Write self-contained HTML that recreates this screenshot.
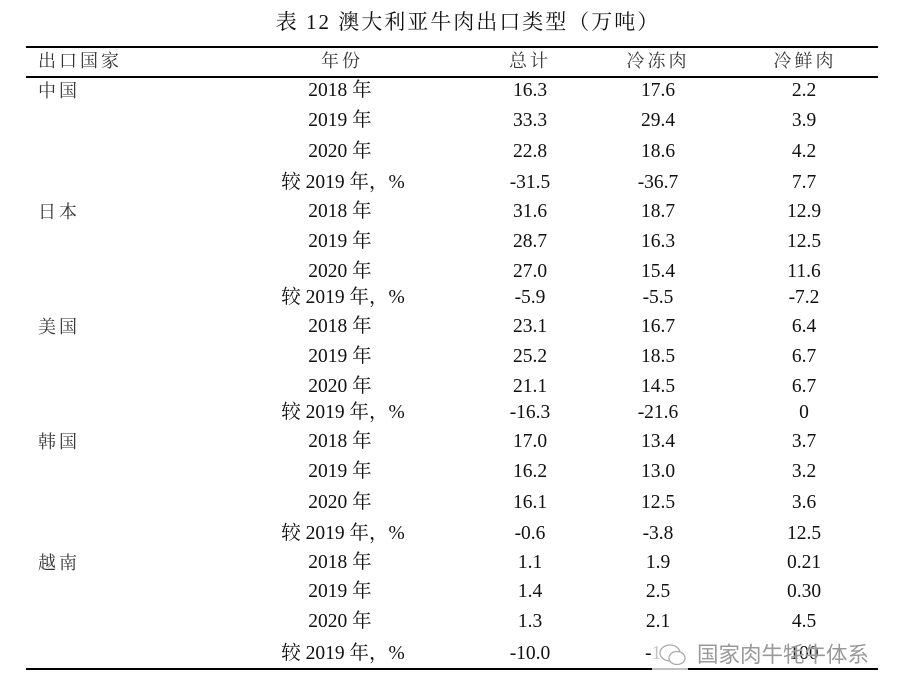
<!DOCTYPE html>
<html><head><meta charset="utf-8"><style>
body{margin:0;width:899px;height:696px;background:#fff;position:relative;overflow:hidden;font-family:"Liberation Serif","Noto Serif CJK SC",serif;color:#111;font-size:19.5px}
.t{position:absolute;white-space:nowrap;line-height:20px}
.c{transform:translateX(-50%)}
.line{position:absolute;left:26px;width:852px;height:1.5px;background:#000}
.cj{color:#333;letter-spacing:3px;font-size:18px}
</style></head><body>
<div class="t c" style="left:468px;top:12px;font-size:21px;letter-spacing:2px">表 12 澳大利亚牛肉出口类型（万吨）</div>
<div class="line" style="top:46px"></div>
<div class="line" style="top:76px"></div>
<div class="line" style="top:668px"></div>
<div class="t cj" style="left:38px;top:51px">出口国家</div>
<div class="t c cj" style="left:342px;top:51px">年份</div>
<div class="t c cj" style="left:530px;top:51px">总计</div>
<div class="t c cj" style="left:658px;top:51px">冷冻肉</div>
<div class="t c cj" style="left:805px;top:51px">冷鲜肉</div>
<div id="rows"></div>
<script>
var ys=[91,121,152,183,212,242,272,298,327,357,387,413,442,472,503,534,563,592,622,654];
var names=["中国","日本","美国","韩国","越南"];
var d=[["16.3","17.6","2.2"],["33.3","29.4","3.9"],["22.8","18.6","4.2"],["-31.5","-36.7","7.7"],
["31.6","18.7","12.9"],["28.7","16.3","12.5"],["27.0","15.4","11.6"],["-5.9","-5.5","-7.2"],
["23.1","16.7","6.4"],["25.2","18.5","6.7"],["21.1","14.5","6.7"],["-16.3","-21.6","0"],
["17.0","13.4","3.7"],["16.2","13.0","3.2"],["16.1","12.5","3.6"],["-0.6","-3.8","12.5"],
["1.1","1.9","0.21"],["1.4","2.5","0.30"],["1.3","2.1","4.5"],["-10.0","-16","100"]];
var yr=["2018 年","2019 年","2020 年","较 2019 年，%"];
var h="";
for(var i=0;i<20;i++){var y=ys[i]-10;
if(i%4==0)h+='<div class="t cj" style="left:38px;top:'+y+'px">'+names[i/4]+'</div>';
h+='<div class="t c" style="left:'+(i%4==3?343:340)+'px;top:'+y+'px">'+yr[i%4]+'</div>';
h+='<div class="t c" style="left:530px;top:'+y+'px">'+d[i][0]+'</div>';
h+='<div class="t c" style="left:658px;top:'+y+'px">'+d[i][1]+'</div>';
h+='<div class="t c" style="left:804px;top:'+y+'px">'+d[i][2]+'</div>';}
document.getElementById("rows").innerHTML=h;
</script>
<div style="position:absolute;left:652px;top:640px;width:36px;height:30px;background:rgba(255,255,255,0.75)"></div>
<svg style="position:absolute;left:657px;top:641px" width="32" height="28"><ellipse cx="13" cy="12" rx="10" ry="8" fill="#fff" stroke="#aaa" stroke-width="1.3"/><ellipse cx="20" cy="17" rx="8" ry="6.5" fill="#fff" stroke="#aaa" stroke-width="1.3"/></svg>
<div class="t" style="left:697px;top:643px;font-family:'Liberation Sans','Noto Sans CJK SC',sans-serif;font-size:21.5px;color:#999;line-height:24px;text-shadow:0 0 1px #fff">国家肉牛牦牛体系</div>
</body></html>
